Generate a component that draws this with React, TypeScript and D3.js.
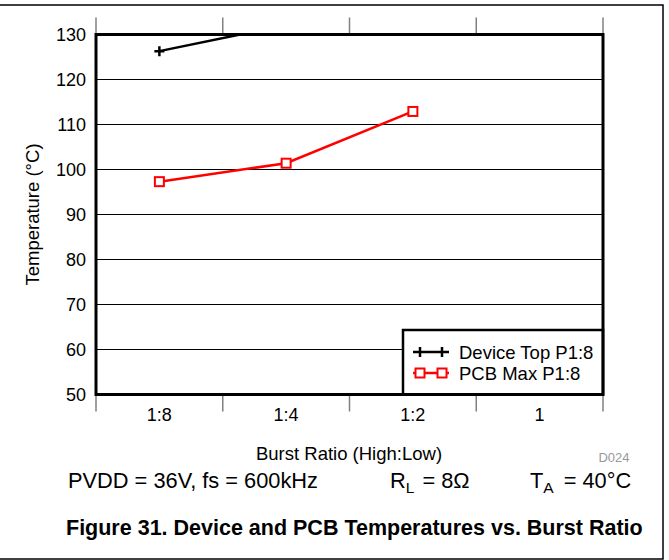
import { useEffect, useRef } from 'react';
import * as d3 from 'd3';

const categories = ['1:8', '1:4', '1:2', '1'];
const yTicks = [50, 60, 70, 80, 90, 100, 110, 120, 130];
const deviceTop = [126.3, 132.1];
const pcbMax = [97.3, 101.4, 112.9];

const FONT = '"Liberation Sans", Arial, sans-serif';

export default function App() {
  const ref = useRef<SVGSVGElement>(null);

  useEffect(() => {
    if (!ref.current) return;
    const width = 669;
    const height = 560;
    const left = 96;
    const right = 603;
    const top = 34.5;
    const bottom = 394.5;
    const svg = d3.select(ref.current);
    svg.selectAll('*').remove();

    const x = d3.scaleBand<string>().domain(categories).range([left, right]);
    const y = d3.scaleLinear().domain([50, 130]).range([bottom, top]);
    const cx = (c: string) => (x(c) ?? 0) + x.bandwidth() / 2;

    // outer frame
    svg.append('path')
      .attr('d', `M0,5 H${width - 6} V${height - 1} H0`)
      .attr('fill', 'none')
      .attr('stroke', '#000')
      .attr('stroke-width', 1.5);

    svg.append('clipPath').attr('id', 'plot-clip')
      .append('rect')
      .attr('x', left).attr('y', top)
      .attr('width', right - left).attr('height', bottom - top);

    // grid lines
    yTicks.slice(1, -1).forEach((t) => {
      svg.append('line')
        .attr('x1', left).attr('x2', right)
        .attr('y1', y(t)).attr('y2', y(t))
        .attr('stroke', '#000')
        .attr('stroke-width', 1);
    });

    // category tick marks above and below
    const bounds = categories.map((c) => x(c) ?? 0).concat([right]);
    bounds.forEach((b) => {
      svg.append('line')
        .attr('x1', b).attr('x2', b)
        .attr('y1', top - 17).attr('y2', top)
        .attr('stroke', '#808080').attr('stroke-width', 1.5);
      svg.append('line')
        .attr('x1', b).attr('x2', b)
        .attr('y1', bottom).attr('y2', bottom + 17)
        .attr('stroke', '#808080').attr('stroke-width', 1.5);
    });

    // y tick labels
    yTicks.forEach((t) => {
      svg.append('text')
        .attr('x', 86).attr('y', y(t) + 6.5)
        .attr('text-anchor', 'end')
        .attr('font-family', FONT).attr('font-size', 18)
        .text(t);
    });

    // x tick labels
    categories.forEach((c) => {
      svg.append('text')
        .attr('x', cx(c)).attr('y', 421)
        .attr('text-anchor', 'middle')
        .attr('font-family', FONT).attr('font-size', 18)
        .text(c);
    });

    // device top series (clipped)
    const line = d3.line<number>()
      .x((_, i) => cx(categories[i]))
      .y((d) => y(d));
    const dev = svg.append('g').attr('clip-path', 'url(#plot-clip)');
    dev.append('path')
      .datum(deviceTop)
      .attr('d', line)
      .attr('fill', 'none')
      .attr('stroke', '#000')
      .attr('stroke-width', 2.5);
    deviceTop.forEach((d, i) => {
      const px = cx(categories[i]);
      const py = y(d);
      dev.append('path')
        .attr('d', `M${px - 5},${py} H${px + 5} M${px},${py - 5} V${py + 5}`)
        .attr('stroke', '#000').attr('stroke-width', 2.5);
    });

    // pcb max series
    svg.append('path')
      .datum(pcbMax)
      .attr('d', line)
      .attr('fill', 'none')
      .attr('stroke', '#ff0000')
      .attr('stroke-width', 2.5);
    pcbMax.forEach((d, i) => {
      svg.append('rect')
        .attr('x', cx(categories[i]) - 4.5).attr('y', y(d) - 4.5)
        .attr('width', 9).attr('height', 9)
        .attr('fill', '#fff')
        .attr('stroke', '#ff0000').attr('stroke-width', 2);
    });

    // legend
    const lg = svg.append('g');
    lg.append('rect')
      .attr('x', 403).attr('y', 330)
      .attr('width', right - 403).attr('height', bottom - 330)
      .attr('fill', '#fff')
      .attr('stroke', '#000').attr('stroke-width', 2.5);
    const rows = [
      { label: 'Device Top P1:8', color: '#000', marker: 'plus' },
      { label: 'PCB Max P1:8', color: '#ff0000', marker: 'square' },
    ];
    rows.forEach((r, i) => {
      const ly = 352 + i * 21;
      lg.append('line')
        .attr('x1', 413).attr('x2', 449)
        .attr('y1', ly).attr('y2', ly)
        .attr('stroke', r.color).attr('stroke-width', 2.5);
      [420, 442].forEach((mx) => {
        if (r.marker === 'plus') {
          lg.append('path')
            .attr('d', `M${mx},${ly - 5} V${ly + 5}`)
            .attr('stroke', r.color).attr('stroke-width', 2.5);
        } else {
          lg.append('rect')
            .attr('x', mx - 4.5).attr('y', ly - 4.5)
            .attr('width', 9).attr('height', 9)
            .attr('fill', '#fff')
            .attr('stroke', r.color).attr('stroke-width', 2);
        }
      });
      lg.append('text')
        .attr('x', 459).attr('y', ly + 6.5)
        .attr('font-family', FONT).attr('font-size', 18.5)
        .text(r.label);
    });

    // plot border
    svg.append('rect')
      .attr('x', left).attr('y', top)
      .attr('width', right - left).attr('height', bottom - top)
      .attr('fill', 'none')
      .attr('stroke', '#000').attr('stroke-width', 3);

    // axis titles
    svg.append('text')
      .attr('transform', `translate(39,${(top + bottom) / 2}) rotate(-90)`)
      .attr('text-anchor', 'middle')
      .attr('font-family', FONT).attr('font-size', 18.5)
      .text('Temperature (°C)');
    svg.append('text')
      .attr('x', 349).attr('y', 460)
      .attr('text-anchor', 'middle')
      .attr('font-family', FONT).attr('font-size', 18.5)
      .text('Burst Ratio (High:Low)');
    svg.append('text')
      .attr('x', 614).attr('y', 462)
      .attr('text-anchor', 'middle')
      .attr('fill', '#999')
      .attr('font-family', FONT).attr('font-size', 13)
      .text('D024');

    // conditions
    svg.append('text')
      .attr('x', 68).attr('y', 488)
      .attr('font-family', FONT).attr('font-size', 21.8)
      .text('PVDD = 36V, fs = 600kHz');
    const rl = svg.append('text')
      .attr('x', 390).attr('y', 488)
      .attr('font-family', FONT).attr('font-size', 21.8);
    rl.append('tspan').text('R');
    rl.append('tspan').attr('font-size', 15.5).attr('dy', 5).text('L');
    rl.append('tspan').attr('dy', -5).attr('dx', 8).text('= 8Ω');
    const ta = svg.append('text')
      .attr('x', 530).attr('y', 488)
      .attr('font-family', FONT).attr('font-size', 21.8);
    ta.append('tspan').text('T');
    ta.append('tspan').attr('font-size', 15.5).attr('dy', 5).text('A');
    ta.append('tspan').attr('dy', -5).attr('dx', 10).text('= 40°C');

    // caption
    svg.append('text')
      .attr('x', 66).attr('y', 535)
      .attr('font-family', FONT).attr('font-size', 21.5)
      .attr('font-weight', 'bold')
      .text('Figure 31. Device and PCB Temperatures vs. Burst Ratio');
  }, []);

  return (
    <svg
      ref={ref}
      width={669}
      height={560}
      viewBox="0 0 669 560"
      style={{ position: 'absolute', left: 0, top: 0, background: '#fff' }}
    />
  );
}
